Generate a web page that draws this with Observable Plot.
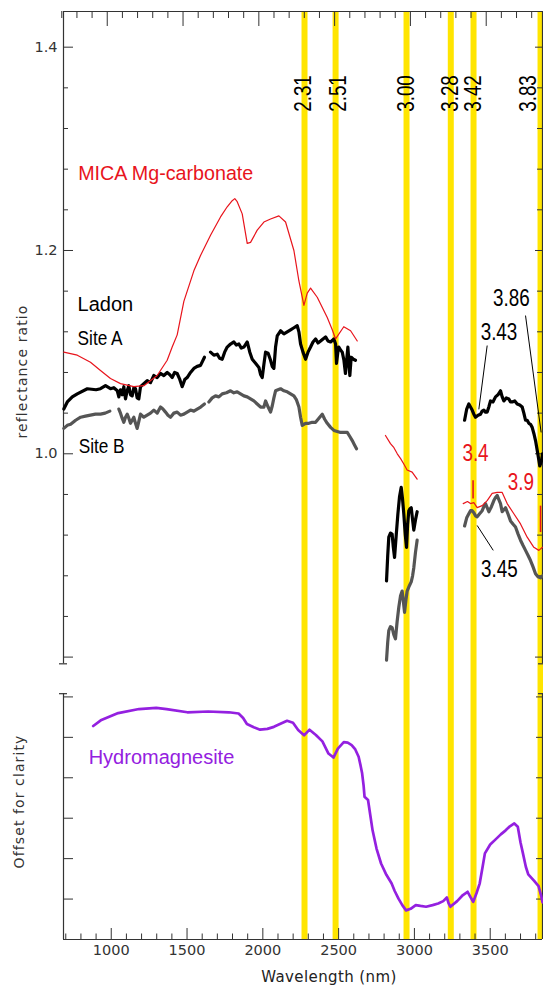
<!DOCTYPE html>
<html><head><meta charset="utf-8">
<script src="https://cdn.jsdelivr.net/npm/d3@7"></script>
<script src="https://cdn.jsdelivr.net/npm/@observablehq/plot@0.6"></script>
<style>body{margin:0;background:#fff}</style>
</head><body><div id="chart"></div>
<script>
// ---------- data ----------
const bandWavelengths = [2275, 2480, 2948, 3240, 3390, 3832];
const bandLabels = ["2.31", "2.51", "3.00", "3.28", "3.42", "3.83"];

const xMajorTicks = [1000, 1500, 2000, 2500, 3000, 3500];
const xMinorTicks = [700, 800, 900, 1100, 1200, 1300, 1400, 1600, 1700, 1800, 1900, 2100, 2200, 2300, 2400, 2600, 2700, 2800, 2900, 3100, 3200, 3300, 3400, 3600, 3700, 3800];
const yMajorTicks = [0.8, 1.0, 1.2, 1.4];
const yTickLabels = [1.0, 1.2, 1.4];
const yMinorTicks = [0.84, 0.88, 0.92, 0.96, 1.04, 1.08, 1.12, 1.16, 1.24, 1.28, 1.32, 1.36];
const offsetTicks = [1, 2, 3, 4, 5, 6];

// MICA Mg-carbonate (nm, reflectance ratio)
const micaA = [[687,1.100],[776,1.097],[863,1.090],[929,1.082],[995,1.074],[1061,1.069],[1149,1.066],[1215,1.067],[1303,1.077],[1369,1.092],[1402,1.105],[1435,1.117],[1479,1.150],[1545,1.180],[1589,1.195],[1655,1.215],[1721,1.233],[1765,1.243],[1798,1.249],[1815,1.251],[1831,1.248],[1864,1.236],[1897,1.207],[1919,1.208],[1963,1.220],[2007,1.228],[2051,1.231],[2106,1.234],[2150,1.228],[2205,1.200],[2238,1.170],[2271,1.146],[2293,1.158],[2315,1.163],[2359,1.154],[2425,1.134],[2458,1.122],[2480,1.113],[2534,1.125],[2579,1.121],[2623,1.111]];
const micaB = [[2809,1.018],[2842,1.010],[2865,1.006],[2887,1.000],[2910,0.995],[2930,0.990],[2952,0.984],[2985,0.982],[3018,0.975]];
const micaC = [[3322,0.951],[3350,0.953],[3370,0.951],[3392,0.952],[3414,0.947],[3447,0.949],[3480,0.954],[3513,0.961],[3546,0.962],[3579,0.962],[3612,0.951],[3656,0.941],[3700,0.931],[3744,0.918],[3788,0.908],[3821,0.905],[3845,0.908]];

// Ladon Site A
const siteA1 = [[687,1.044],[710,1.051],[743,1.056],[776,1.059],[842,1.064],[900,1.063],[929,1.064],[962,1.067],[995,1.064],[1017,1.065],[1040,1.062],[1050,1.056],[1061,1.063],[1072,1.058],[1083,1.066],[1094,1.054],[1105,1.062],[1116,1.067],[1127,1.058],[1138,1.057],[1149,1.065],[1160,1.064],[1171,1.055],[1182,1.054],[1193,1.066],[1215,1.069],[1237,1.072],[1259,1.070],[1281,1.077],[1303,1.075],[1325,1.079],[1347,1.077],[1369,1.080],[1385,1.078],[1402,1.075],[1418,1.080],[1435,1.079],[1450,1.074],[1468,1.066],[1485,1.073],[1501,1.075],[1523,1.080],[1545,1.084],[1567,1.086],[1589,1.087],[1615,1.095]];
const siteA2 = [[1655,1.100],[1677,1.097],[1699,1.098],[1715,1.094],[1732,1.093],[1748,1.100],[1765,1.105],[1787,1.108],[1809,1.110],[1825,1.107],[1842,1.108],[1858,1.104],[1875,1.105],[1897,1.110],[1914,1.100],[1930,1.093],[1952,1.089],[1974,1.085],[1985,1.078],[1996,1.075],[2007,1.088],[2018,1.100],[2035,1.099],[2051,1.092],[2062,1.086],[2073,1.084],[2084,1.105],[2095,1.116],[2117,1.121],[2139,1.118],[2161,1.120],[2183,1.122],[2205,1.124],[2227,1.126],[2238,1.120],[2249,1.108],[2265,1.100],[2282,1.093],[2298,1.100],[2315,1.105],[2331,1.110],[2348,1.113],[2364,1.109],[2381,1.111],[2397,1.113],[2414,1.115],[2430,1.111],[2447,1.110],[2469,1.113],[2480,1.108],[2486,1.089],[2495,1.100],[2501,1.105],[2513,1.102],[2524,1.100],[2535,1.092],[2545,1.079],[2553,1.092],[2561,1.105],[2568,1.090],[2574,1.077],[2583,1.095],[2597,1.093],[2611,1.092]];
const siteA3 = [[2816,0.875],[2824,0.900],[2831,0.918],[2842,0.922],[2853,0.921],[2861,0.908],[2869,0.898],[2880,0.920],[2891,0.941],[2902,0.958],[2913,0.967],[2922,0.955],[2930,0.941],[2940,0.920],[2948,0.908],[2955,0.930],[2963,0.944],[2971,0.946],[2979,0.947],[2988,0.935],[2996,0.925],[3007,0.935],[3018,0.943]];
const siteA4 = [[3331,1.033],[3345,1.044],[3359,1.049],[3370,1.046],[3381,1.043],[3392,1.039],[3403,1.036],[3420,1.038],[3436,1.039],[3447,1.042],[3458,1.043],[3469,1.041],[3480,1.041],[3491,1.046],[3502,1.052],[3518,1.051],[3535,1.056],[3551,1.058],[3568,1.062],[3579,1.056],[3590,1.052],[3606,1.055],[3623,1.054],[3634,1.051],[3645,1.051],[3662,1.052],[3678,1.049],[3695,1.048],[3711,1.046],[3722,1.040],[3733,1.033],[3744,1.033],[3755,1.030],[3766,1.029],[3777,1.026],[3788,1.020],[3799,1.013],[3814,1.000],[3827,0.988],[3838,0.993],[3845,1.000]];

// Ladon Site B
const siteB1 = [[687,1.025],[710,1.028],[732,1.029],[765,1.033],[798,1.036],[830,1.037],[863,1.038],[896,1.039],[929,1.039],[960,1.040],[991,1.042]];
const siteB2 = [[1050,1.044],[1061,1.040],[1072,1.035],[1083,1.031],[1094,1.036],[1105,1.039],[1116,1.035],[1127,1.030],[1138,1.033],[1149,1.036],[1160,1.030],[1171,1.025],[1182,1.032],[1193,1.039],[1215,1.036],[1237,1.038],[1259,1.040],[1281,1.043],[1303,1.040],[1325,1.046],[1341,1.044],[1358,1.041],[1374,1.038],[1391,1.036],[1413,1.040],[1435,1.041],[1457,1.038],[1479,1.039],[1501,1.041],[1523,1.043],[1545,1.042],[1567,1.044],[1590,1.046],[1615,1.049]];
const siteB3 = [[1644,1.051],[1666,1.055],[1688,1.057],[1710,1.056],[1732,1.059],[1760,1.060],[1787,1.062],[1809,1.060],[1831,1.061],[1853,1.059],[1875,1.057],[1897,1.056],[1919,1.054],[1941,1.052],[1963,1.049],[1985,1.046],[2007,1.046],[2018,1.052],[2035,1.046],[2051,1.041],[2062,1.047],[2073,1.055],[2084,1.062],[2100,1.063],[2117,1.064],[2139,1.062],[2161,1.061],[2183,1.059],[2205,1.057],[2222,1.053],[2238,1.046],[2249,1.036],[2260,1.028],[2282,1.030],[2304,1.030],[2326,1.031],[2348,1.031],[2370,1.035],[2392,1.039],[2408,1.034],[2425,1.030],[2447,1.026],[2469,1.023],[2491,1.022],[2513,1.021],[2535,1.021],[2557,1.021],[2574,1.017],[2590,1.013],[2604,1.009],[2618,1.005]];
const siteB4 = [[2816,0.797],[2824,0.815],[2831,0.826],[2842,0.830],[2853,0.829],[2864,0.822],[2875,0.818],[2886,0.835],[2897,0.849],[2908,0.860],[2919,0.865],[2927,0.855],[2935,0.844],[2944,0.856],[2952,0.865],[2966,0.870],[2979,0.874],[2988,0.880],[2996,0.888],[3007,0.903],[3018,0.915]];
const siteB5 = [[3331,0.929],[3345,0.937],[3359,0.941],[3370,0.944],[3381,0.944],[3392,0.942],[3403,0.939],[3414,0.938],[3430,0.941],[3447,0.944],[3458,0.948],[3469,0.951],[3480,0.947],[3491,0.943],[3508,0.948],[3524,0.954],[3535,0.957],[3546,0.959],[3557,0.955],[3568,0.951],[3579,0.943],[3590,0.945],[3601,0.947],[3617,0.941],[3634,0.934],[3650,0.931],[3667,0.928],[3684,0.921],[3700,0.915],[3716,0.910],[3733,0.905],[3750,0.900],[3766,0.895],[3782,0.889],[3799,0.882],[3815,0.879],[3832,0.878],[3845,0.880]];

// Hydromagnesite (nm, offset units)
const hydro = [[881,5.28],[931,5.42],[1046,5.60],[1183,5.70],[1297,5.73],[1365,5.70],[1502,5.62],[1639,5.64],[1776,5.62],[1840,5.59],[1870,5.48],[1895,5.33],[1940,5.25],[1982,5.19],[2030,5.21],[2073,5.26],[2120,5.34],[2160,5.41],[2199,5.36],[2233,5.18],[2272,5.05],[2308,5.19],[2350,5.06],[2393,4.90],[2433,4.60],[2466,4.50],[2495,4.72],[2534,4.88],[2560,4.87],[2586,4.81],[2610,4.70],[2632,4.52],[2645,4.30],[2655,4.11],[2665,3.80],[2671,3.53],[2694,3.45],[2710,3.05],[2724,2.70],[2750,2.25],[2780,1.88],[2815,1.60],[2849,1.39],[2870,1.20],[2895,1.01],[2920,0.85],[2945,0.72],[2975,0.76],[3009,0.85],[3040,0.83],[3077,0.81],[3120,0.85],[3157,0.89],[3190,0.95],[3214,1.04],[3225,0.90],[3237,0.81],[3282,0.95],[3320,1.10],[3351,1.18],[3370,1.05],[3388,0.93],[3410,1.15],[3431,1.39],[3450,1.80],[3465,2.13],[3500,2.35],[3534,2.47],[3570,2.60],[3602,2.70],[3630,2.80],[3659,2.87],[3682,2.79],[3700,2.40],[3716,2.13],[3735,1.80],[3751,1.61],[3790,1.45],[3819,1.32],[3835,1.10],[3845,0.92]];

// annotations: [text, nm, value, color]
const numberNotes = [["3.86",3640,1.153,"#000"],["3.43",3558,1.119,"#000"],["3.45",3561,0.886,"#000"],["3.4",3403,1.000,"#e8141c"],["3.9",3703,0.972,"#e8141c"]];
const leaderLines = [[3480,1.1065,3425,1.0437],[3733,1.136,3836,1.021],[3414,0.9295,3520,0.905]];
const redMarks = [[3387,0.974,0.956],[3832,0.949,0.923]];

// ---------- layout ----------
const W = 543, H = 987, mL = 63, mR = 1, mT = 11, mB = 48;
const xDom = [685, 3845];
const yDom = [0.5222, 1.4351];
const topPanelMin = 0.7934;
const nmPerPx = (xDom[1] - xDom[0]) / (W - mL - mR);
const valPerPx = (yDom[1] - yDom[0]) / (H - mT - mB);
const hydroUnit = 40.43 * valPerPx;          // offset for clarity
const hydroY = v => yDom[0] + v * hydroUnit;
const hydroTop = hydroY(6.08);
const bandLabelShift = [-1, 3, 0, 0, 0, -12];  // px nudges of the rotated band labels

const seg = (name, pts) => pts.map(([x, y]) => ({x, y, seg: name}));
const micaData = [...seg("a", micaA), ...seg("b", micaB), ...seg("c", micaC)];
const siteAData = [...seg("1", siteA1), ...seg("2", siteA2), ...seg("3", siteA3), ...seg("4", siteA4)];
const siteBData = [...seg("1", siteB1), ...seg("2", siteB2), ...seg("3", siteB3), ...seg("4", siteB4), ...seg("5", siteB5)];

const AX = "#333";
const SANS = "'Liberation Sans', Arial, sans-serif";
const AXF = "'DejaVu Sans', sans-serif";
const RED = "#e8141c", PURPLE = "#9420e0";

const chart = Plot.plot({
  width: W, height: H, marginLeft: mL, marginRight: mR, marginTop: mT, marginBottom: mB,
  x: {domain: xDom, axis: null},
  y: {domain: yDom, axis: null},
  marks: [
    Plot.ruleX(bandWavelengths, {stroke: "#ffe500", strokeWidth: 6}),
    // frame
    Plot.ruleY([yDom[1]], {stroke: AX, strokeWidth: 1.2}),
    Plot.ruleY([yDom[0]], {stroke: AX, strokeWidth: 1.2}),
    Plot.ruleX([xDom[0]], {y1: topPanelMin, y2: yDom[1], stroke: AX, strokeWidth: 1.2}),
    Plot.ruleX([xDom[0]], {y1: yDom[0], y2: hydroTop, stroke: AX, strokeWidth: 1.2}),
    Plot.ruleX([xDom[1]], {y1: topPanelMin, y2: yDom[1], stroke: AX, strokeWidth: 1.2}),
    Plot.ruleX([xDom[1]], {y1: yDom[0], y2: hydroTop, stroke: AX, strokeWidth: 1.2}),
    Plot.ruleY([topPanelMin, hydroTop], {x1: xDom[0] - 4 * nmPerPx, x2: xDom[0] + 4 * nmPerPx, stroke: AX, strokeWidth: 1.2}),
    Plot.ruleY([topPanelMin, hydroTop], {x1: xDom[1] - 4 * nmPerPx, x2: xDom[1] + 4 * nmPerPx, stroke: AX, strokeWidth: 1.2}),
    // x ticks bottom
    Plot.ruleX(xMajorTicks, {y1: yDom[0], y2: yDom[0] + 11 * valPerPx, stroke: AX}),
    Plot.ruleX(xMinorTicks, {y1: yDom[0], y2: yDom[0] + 5.5 * valPerPx, stroke: AX}),
    // x ticks top
    Plot.ruleX(xMajorTicks, {y1: yDom[1], y2: yDom[1] - 15 * valPerPx, dx: -4, stroke: AX}),
    Plot.ruleX(xMinorTicks, {y1: yDom[1], y2: yDom[1] - 7 * valPerPx, dx: -4, stroke: AX}),
    // y ticks top panel
    Plot.ruleY(yMajorTicks, {x1: xDom[0], x2: xDom[0] + 10 * nmPerPx, stroke: AX}),
    Plot.ruleY(yMinorTicks, {x1: xDom[0], x2: xDom[0] + 5 * nmPerPx, stroke: AX}),
    Plot.ruleY(yMajorTicks, {x1: xDom[1] - 7 * nmPerPx, x2: xDom[1], stroke: AX}),
    Plot.ruleY(yMinorTicks, {x1: xDom[1] - 5 * nmPerPx, x2: xDom[1], stroke: AX}),
    // offset panel ticks
    Plot.ruleY(offsetTicks, {y: hydroY, x1: xDom[0], x2: xDom[0] + 10 * nmPerPx, stroke: AX}),
    Plot.ruleY(offsetTicks, {y: hydroY, x1: xDom[1] - 6 * nmPerPx, x2: xDom[1], stroke: AX}),
    // tick labels
    Plot.text(xMajorTicks, {x: d => d, y: yDom[0], dy: 11, text: d => String(d), fontSize: 14.5, fontFamily: AXF, fill: "#333"}),
    Plot.text(yTickLabels, {x: xDom[0], y: d => d, dx: -6, textAnchor: "end", text: d => d.toFixed(1), fontSize: 14.5, fontFamily: AXF, fill: "#333"}),
    // axis titles
    Plot.text(["Wavelength (nm)"], {frameAnchor: "bottom", lineAnchor: "middle", dx: 26, dy: 38, fontSize: 15, fontFamily: AXF, fill: "#222"}),
    Plot.text(["reflectance ratio"], {frameAnchor: "top-left", textAnchor: "middle", lineAnchor: "middle", dx: -41, dy: 360, rotate: -90, fontSize: 14, fontFamily: AXF, fill: "#333"}),
    Plot.text(["Offset for clarity"], {frameAnchor: "top-left", textAnchor: "middle", lineAnchor: "middle", dx: -44, dy: 790, rotate: -90, fontSize: 14, fontFamily: AXF, fill: "#333"}),
    // curves
    Plot.line(hydro, {x: d => d[0], y: d => hydroY(d[1]), stroke: PURPLE, strokeWidth: 2.7, strokeLinejoin: "round"}),
    Plot.line(siteBData, {x: "x", y: "y", z: "seg", stroke: "#555", strokeWidth: 3.2, strokeLinejoin: "round"}),
    Plot.line(siteAData, {x: "x", y: "y", z: "seg", stroke: "#000", strokeWidth: 3.2, strokeLinejoin: "round"}),
    Plot.line(micaData, {x: "x", y: "y", z: "seg", stroke: RED, strokeWidth: 1.2, strokeLinejoin: "round"}),
    // band labels
    Plot.text(bandWavelengths, {x: d => d, frameAnchor: "top", textAnchor: "middle", lineAnchor: "middle", dy: 82, rotate: -90, text: (d, i) => bandLabels[i], fontSize: 23, fontFamily: SANS, fill: "#000"}),
    // annotations
    Plot.link(leaderLines, {x1: d => d[0], y1: d => d[1], x2: d => d[2], y2: d => d[3], stroke: "#000", strokeWidth: 1}),
    Plot.link(redMarks, {x1: d => d[0], y1: d => d[1], x2: d => d[0], y2: d => d[2], stroke: RED, strokeWidth: 1.6}),
    Plot.text(numberNotes, {x: d => d[1], y: d => d[2], text: d => d[0], fill: d => d[3], fontSize: 23, fontFamily: SANS}),
    Plot.text(["MICA Mg-carbonate"], {x: 782, y: 1.2757, textAnchor: "start", fill: RED, fontSize: 19.7, fontFamily: SANS}),
    Plot.text(["Ladon"], {x: 778, y: 1.1469, textAnchor: "start", fill: "#000", fontSize: 20, fontFamily: SANS}),
    Plot.text(["Site A"], {x: 778, y: 1.1139, textAnchor: "start", fill: "#000", fontSize: 21, fontFamily: SANS}),
    Plot.text(["Site B"], {x: 785, y: 1.0072, textAnchor: "start", fill: "#000", fontSize: 21, fontFamily: SANS}),
    Plot.text(["Hydromagnesite"], {x: 851, y: hydroY(4.50), textAnchor: "start", fill: PURPLE, fontSize: 20, fontFamily: SANS})
  ]
});
document.getElementById("chart").appendChild(chart);

// condensed lettering for the annotation numbers and site names, letter spacing for axis titles
const condensed = new Set([...bandLabels, ...numberNotes.map(d => d[0]), "Site A", "Site B"]);
d3.select(chart).selectAll("text").each(function() {
  const t = this.textContent;
  const sel = d3.select(this);
  const bi = bandLabels.indexOf(t);
  let tr = sel.attr("transform") || "";
  if (bi >= 0 && bandLabelShift[bi]) tr = `translate(${bandLabelShift[bi]},0) ` + tr;
  if (condensed.has(t)) tr += " scale(0.82,1)";
  sel.attr("transform", tr);
  if (t === "reflectance ratio" || t === "Offset for clarity") sel.style("letter-spacing", "1.1px");
  if (t === "Wavelength (nm)") sel.style("letter-spacing", "0.4px");
});
</script></body></html>
